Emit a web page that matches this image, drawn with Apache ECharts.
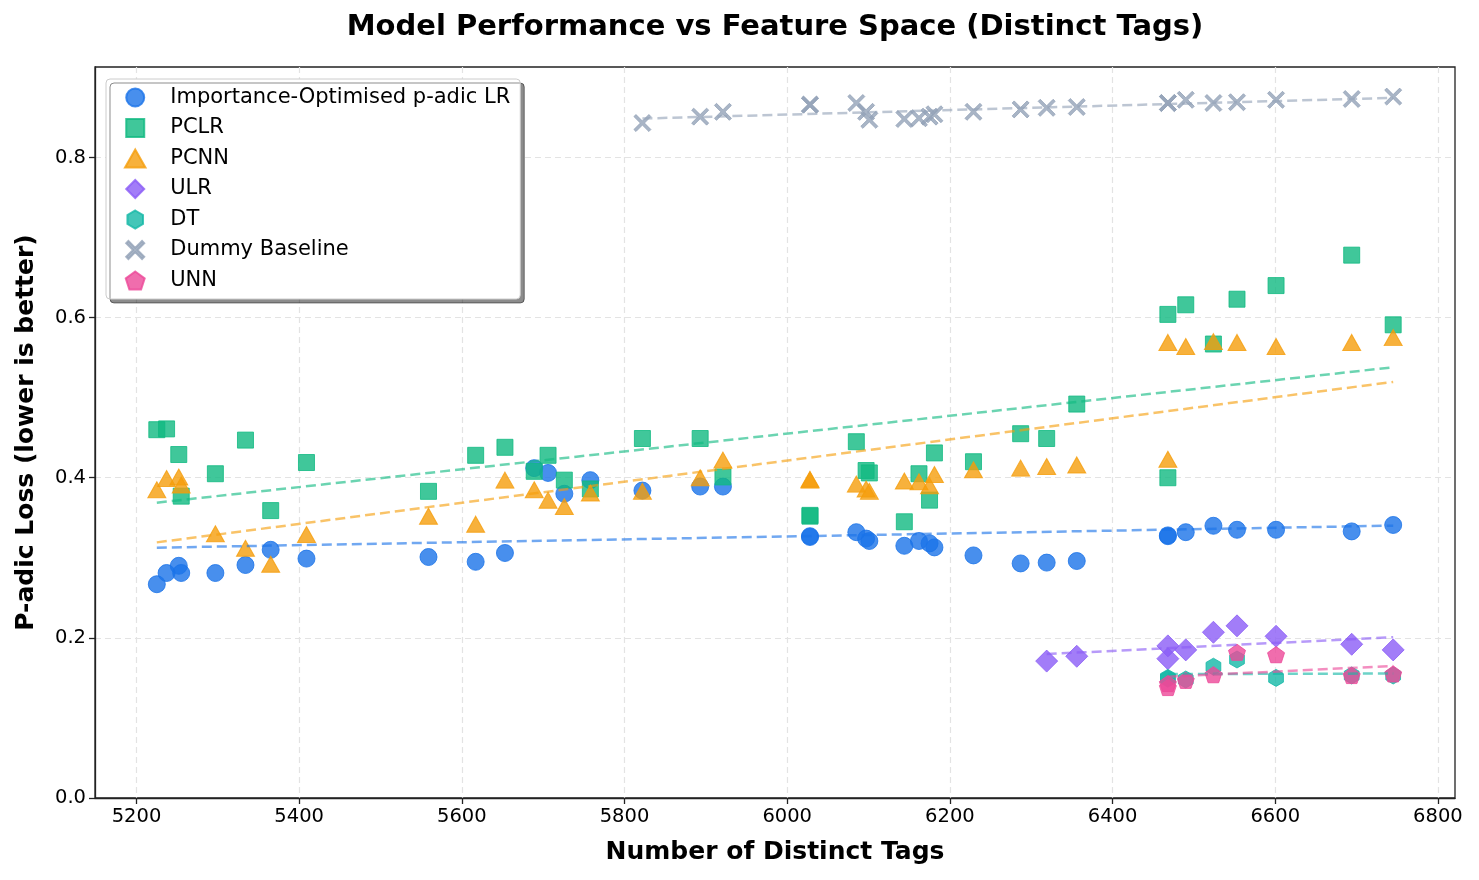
<!DOCTYPE html>
<html>
<head>
<meta charset="utf-8">
<title>Model Performance vs Feature Space</title>
<script src="https://cdn.jsdelivr.net/npm/echarts/dist/echarts.min.js"></script>
<style>
  html, body { margin: 0; padding: 0; background: #fff; }
  #chart { width: 1479px; height: 880px; }
</style>
</head>
<body>
<div id="chart"></div>
<script>

// number of distinct tags per run (shared by every model, null = model not run)
var tagCounts = [5225, 5237, 5252, 5255, 5297, 5334, 5365, 5409, 5559, 5617,
                 5653, 5689, 5706, 5726, 5758, 5822, 5893, 5921, 6028, 6028,
                 6085, 6097, 6101, 6144, 6162, 6175, 6181, 6229, 6287, 6319,
                 6356, 6468, 6468, 6490, 6524, 6553, 6601, 6694, 6745];

var lossImportance = [0.267, 0.281, 0.290, 0.281, 0.281, 0.291, 0.310, 0.299, 0.301, 0.295,
                      0.306, 0.412, 0.406, 0.380, 0.397, 0.384, 0.389, 0.389, 0.326, 0.327,
                      0.332, 0.324, 0.321, 0.315, 0.321, 0.318, 0.313, 0.303, 0.293, 0.294,
                      0.296, 0.327, 0.328, 0.332, 0.340, 0.335, 0.335, 0.333, 0.341];

var lossPCLR = [0.460, 0.461, 0.429, 0.377, 0.405, 0.447, 0.359, 0.419, 0.383, 0.428,
                0.438, 0.408, 0.428, 0.397, 0.386, 0.449, 0.449, 0.401, 0.352, 0.353,
                0.445, 0.409, 0.406, 0.345, 0.405, 0.372, 0.431, 0.420, 0.455, 0.449,
                0.492, 0.604, 0.400, 0.616, 0.567, 0.623, 0.640, 0.678, 0.591];

var lossPCNN = [0.385, 0.399, 0.401, 0.391, 0.330, 0.312, 0.292, 0.329, 0.352, 0.342,
                0.397, 0.385, 0.372, 0.364, 0.381, 0.383, 0.400, 0.422, 0.397, 0.398,
                0.392, 0.386, 0.383, 0.396, 0.395, 0.390, 0.404, 0.410, 0.412, 0.414,
                0.416, 0.569, 0.423, 0.564, 0.570, 0.569, 0.564, 0.569, 0.575];

var lossULR = [null, null, null, null, null, null, null, null, null, null,
               null, null, null, null, null, null, null, null, null, null,
               null, null, null, null, null, null, null, null, null, 0.171,
               0.177, 0.190, 0.174, 0.185, 0.207, 0.215, 0.202, 0.192, 0.185];

var lossDT = [null, null, null, null, null, null, null, null, null, null,
              null, null, null, null, null, null, null, null, null, null,
              null, null, null, null, null, null, null, null, null, null,
              null, 0.149, 0.150, 0.148, 0.164, 0.173, 0.150, 0.153, 0.153];

var lossDummy = [null, null, null, null, null, null, null, null, null, null,
                 null, null, null, null, null, 0.843, 0.851, 0.857, 0.866, 0.866,
                 0.868, 0.857, 0.847, 0.848, 0.849, 0.851, 0.854, 0.857, 0.860, 0.862,
                 0.863, 0.868, 0.868, 0.872, 0.868, 0.869, 0.872, 0.873, 0.876];

var lossUNN = [null, null, null, null, null, null, null, null, null, null,
               null, null, null, null, null, null, null, null, null, null,
               null, null, null, null, null, null, null, null, null, null,
               null, 0.138, 0.143, 0.147, 0.154, 0.182, 0.179, 0.153, 0.155];

var xTicks = [5200, 5400, 5600, 5800, 6000, 6200, 6400, 6600, 6800];
var yTicks = [0, 0.2, 0.4, 0.6, 0.8];

// marker shapes (matplotlib look-alikes)
var ICON_CIRCLE = 'path://M50,0A50,50,0,1,1,49.99,0Z';
var ICON_SQUARE = 'path://M0,0L100,0L100,100L0,100Z';
var ICON_TRIANGLE = 'path://M50,0L100,88L0,88Z';
var ICON_DIAMOND = 'path://M50,0L100,50L50,100L0,50Z';
var ICON_HEXAGON = 'path://M50,0L93.3,25L93.3,75L50,100L6.7,75L6.7,25Z';
var ICON_X = 'path://M0,12L12,0L50,38L88,0L100,12L62,50L100,88L88,100L50,62L12,100L0,88L38,50Z';
var ICON_PENTAGON = 'path://M50,0L97.6,34.5L79.4,90.5L20.6,90.5L2.4,34.5Z';

var models = [
  { name: 'Importance-Optimised p-adic LR', values: lossImportance, color: '#1a73e8', symbol: 'circle', icon: ICON_CIRCLE, size: 17 },
  { name: 'PCLR', values: lossPCLR, color: '#10b981', symbol: 'rect', icon: ICON_SQUARE, size: 16 },
  { name: 'PCNN', values: lossPCNN, color: '#f59e0b', symbol: 'triangle', icon: ICON_TRIANGLE, size: [18, 16] },
  { name: 'ULR', values: lossULR, color: '#8b5cf6', symbol: 'diamond', icon: ICON_DIAMOND, size: 22 },
  { name: 'DT', values: lossDT, color: '#14b8a6', symbol: ICON_HEXAGON, icon: ICON_HEXAGON, size: 17 },
  { name: 'Dummy Baseline', values: lossDummy, color: '#94a3b8', symbol: ICON_X, icon: ICON_X, size: 17 },
  { name: 'UNN', values: lossUNN, color: '#ec4899', symbol: ICON_PENTAGON, icon: ICON_PENTAGON, size: 17 }
];

// least squares line over the points a model actually has
function trendLine(xs, ys) {
  var n = 0, sx = 0, sy = 0, sxx = 0, sxy = 0, xmin = Infinity, xmax = -Infinity;
  for (var i = 0; i < xs.length; i++) {
    if (ys[i] == null) continue;
    n++; sx += xs[i]; sy += ys[i]; sxx += xs[i] * xs[i]; sxy += xs[i] * ys[i];
    if (xs[i] < xmin) xmin = xs[i];
    if (xs[i] > xmax) xmax = xs[i];
  }
  var b = (n * sxy - sx * sy) / (n * sxx - sx * sx);
  var a = (sy - b * sx) / n;
  return [[xmin, a + b * xmin], [xmax, a + b * xmax]];
}

var series = [];
var legendData = [];

models.forEach(function (m) {
  var pts = [];
  for (var i = 0; i < tagCounts.length; i++) {
    if (m.values[i] != null) pts.push([tagCounts[i], m.values[i]]);
  }
  series.push({
    name: m.name,
    type: 'scatter',
    data: pts,
    symbol: m.symbol,
    symbolSize: m.size,
    symbolKeepAspect: true,
    itemStyle: { color: m.color, opacity: 0.8, borderColor: m.color, borderWidth: 1 },
    emphasis: { disabled: true }
  });
  series.push({
    name: m.name + ' trend',
    type: 'line',
    data: trendLine(tagCounts, m.values),
    showSymbol: false,
    symbol: 'none',
    silent: true,
    lineStyle: { color: m.color, width: 2.5, type: [10, 5], opacity: 0.62 },
    emphasis: { disabled: true }
  });
  legendData.push({ name: m.name, icon: m.icon, itemStyle: { color: m.color, opacity: 0.8 } });
});

var chart = echarts.init(document.getElementById('chart'));

chart.setOption({
  animation: false,
  backgroundColor: '#ffffff',
  textStyle: { fontFamily: 'DejaVu Sans' },
  title: {
    text: 'Model Performance vs Feature Space (Distinct Tags)',
    left: 775,
    textAlign: 'center',
    top: 13,
    padding: 0,
    textStyle: { fontFamily: 'DejaVu Sans', fontSize: 29, fontWeight: 'bold', color: '#000' }
  },
  legend: {
    orient: 'vertical',
    left: 106,
    top: 79,
    padding: [8, 10, 8, 18],
    itemWidth: 60,
    itemHeight: 18,
    itemGap: 9.5,
    data: legendData,
    backgroundColor: '#ffffff',
    borderColor: '#cccccc',
    borderWidth: 1,
    borderRadius: 4,
    shadowColor: 'rgba(0,0,0,0.45)',
    shadowBlur: 0,
    shadowOffsetX: 4,
    shadowOffsetY: 4,
    textStyle: { fontFamily: 'DejaVu Sans', fontSize: 21, color: '#000' },
    selectedMode: false
  },
  grid: {
    left: 95,
    right: 24,
    top: 67,
    bottom: 82,
    show: true,
    borderColor: '#222',
    borderWidth: 1.3,
    backgroundColor: 'transparent'
  },
  xAxis: {
    type: 'value',
    min: 5149,
    max: 6821,
    name: 'Number of Distinct Tags',
    nameLocation: 'middle',
    nameGap: 42,
    nameTextStyle: { fontFamily: 'DejaVu Sans', fontSize: 25, fontWeight: 'bold', color: '#000' },
    axisLine: { show: true, lineStyle: { color: '#222', width: 1.3 } },
    axisTick: { show: true, length: 6, customValues: xTicks, lineStyle: { color: '#222', width: 1.3 } },
    axisLabel: {
      customValues: xTicks, fontSize: 19.5, color: '#000', margin: 9,
      formatter: function (v) { return String(v); }
    },
    splitLine: { show: true, lineStyle: { color: '#e3e3e3', width: 1.2, type: [6, 4] } }
  },
  yAxis: {
    type: 'value',
    min: 0,
    max: 0.913,
    name: 'P-adic Loss (lower is better)',
    nameLocation: 'middle',
    nameGap: 56.5,
    nameTextStyle: { fontFamily: 'DejaVu Sans', fontSize: 25, fontWeight: 'bold', color: '#000' },
    axisLine: { show: true, lineStyle: { color: '#222', width: 1.3 } },
    axisTick: { show: true, length: 6, customValues: yTicks, lineStyle: { color: '#222', width: 1.3 } },
    axisLabel: {
      customValues: yTicks, fontSize: 19.5, color: '#000', margin: 9,
      formatter: function (v) { return v.toFixed(1); }
    },
    splitLine: { show: true, lineStyle: { color: '#e3e3e3', width: 1.2, type: [6, 4] } }
  },
  series: series
});

</script>
</body>
</html>
